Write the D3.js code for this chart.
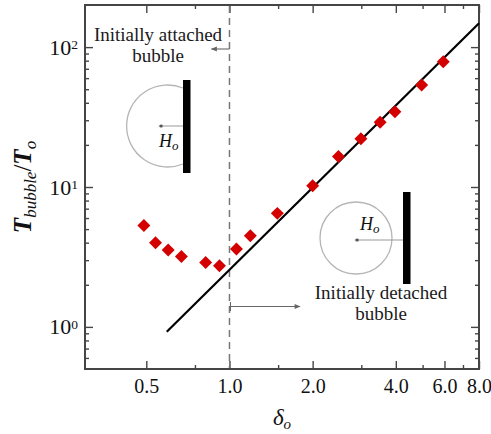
<!DOCTYPE html>
<html>
<head>
<meta charset="utf-8">
<script src="https://cdn.jsdelivr.net/npm/d3@7"></script>
<style>
  html, body { margin: 0; padding: 0; background: #fff; }
  svg text { font-family: "Liberation Serif", "DejaVu Serif", serif !important; }
</style>
</head>
<body>
<svg id="chart" width="491" height="434"></svg>
<script>
// Bubble lifetime ratio against initial stand-off distance
const delta  = [0.49, 0.54, 0.60, 0.67, 0.82, 0.92, 1.06, 1.19, 1.49, 2.0, 2.48, 2.99, 3.51, 3.97, 4.96, 5.94];
const tRatio = [5.3, 4.0, 3.55, 3.18, 2.89, 2.74, 3.6, 4.49, 6.48, 10.2, 16.5, 22.1, 29.0, 34.5, 53.6, 78.6];

// power-law fit (straight line on log-log axes)
const fitDelta = [0.593, 8.0];
const fitT     = [0.924, 148];

const threshold = 1.0;

const xMajorTicks = [0.5, 1, 2, 4, 6, 8];
const xMinorTicks = [0.75, 1.5, 3, 5, 7];
const yMajorTicks = [1, 10, 100];
const yMinorTicks = [0.6, 0.7, 0.8, 0.9, 2, 3, 4, 5, 6, 7, 8, 9, 20, 30, 40, 50, 60, 70, 80, 90];

const W = 491, H = 434;
const margin = { left: 85, right: 12, top: 5, bottom: 65 };

const svg = d3.select("#chart");

const x = d3.scaleLog().base(2).domain([0.3, 8]).range([margin.left, W - margin.right]);
const y = d3.scaleLog().domain([0.5, 200]).range([H - margin.bottom, margin.top]);
const [x0, x1] = x.range();
const [y0, y1] = y.range();

const axisColor = "#454545";
function styleAxis(g) {
  g.select(".domain").remove();
  g.selectAll(".tick line").attr("stroke", axisColor).attr("stroke-width", 1.4);
}

// bottom axis with labels
svg.append("g")
  .attr("transform", `translate(0,${y0})`)
  .call(d3.axisBottom(x).tickValues(xMajorTicks).tickSize(-8).tickPadding(10).tickFormat(d3.format(".1f")))
  .call(styleAxis)
  .call(g => g.attr("font-size", 20).selectAll("text").attr("fill", "#111"));
svg.append("g")
  .attr("transform", `translate(0,${y0})`)
  .call(d3.axisBottom(x).tickValues(xMinorTicks).tickSize(-4).tickFormat(""))
  .call(styleAxis);

// top axis (ticks only)
svg.append("g")
  .attr("transform", `translate(0,${y1})`)
  .call(d3.axisTop(x).tickValues(xMajorTicks).tickSize(-8).tickFormat(""))
  .call(styleAxis);
svg.append("g")
  .attr("transform", `translate(0,${y1})`)
  .call(d3.axisTop(x).tickValues(xMinorTicks).tickSize(-4).tickFormat(""))
  .call(styleAxis);

// left axis
svg.append("g")
  .attr("transform", `translate(${x0},0)`)
  .call(d3.axisLeft(y).tickValues(yMajorTicks).tickSize(-8).tickFormat(""))
  .call(styleAxis);
svg.append("g")
  .attr("transform", `translate(${x0},0)`)
  .call(d3.axisLeft(y).tickValues(yMinorTicks).tickSize(-4).tickFormat(""))
  .call(styleAxis);

// right axis
svg.append("g")
  .attr("transform", `translate(${x1},0)`)
  .call(d3.axisRight(y).tickValues(yMajorTicks).tickSize(-8).tickFormat(""))
  .call(styleAxis);
svg.append("g")
  .attr("transform", `translate(${x1},0)`)
  .call(d3.axisRight(y).tickValues(yMinorTicks).tickSize(-4).tickFormat(""))
  .call(styleAxis);

// power-of-ten labels
const yLab = svg.append("g").attr("fill", "#111");
yMajorTicks.forEach(v => {
  const t = yLab.append("text")
    .attr("x", x0 - 7)
    .attr("y", y(v) + 7.5)
    .attr("text-anchor", "end")
    .attr("font-size", 22);
  t.append("tspan").text("10");
  t.append("tspan").attr("font-size", 13.5).attr("dy", -5.5).text(String(Math.round(Math.log10(v))));
});

// frame
svg.append("rect")
  .attr("x", x0).attr("y", y1)
  .attr("width", x1 - x0).attr("height", y0 - y1)
  .attr("fill", "none").attr("stroke", axisColor).attr("stroke-width", 2);

// axis titles
const xt = svg.append("text")
  .attr("x", (x0 + x1) / 2).attr("y", 425)
  .attr("text-anchor", "middle").attr("fill", "#111")
  .attr("font-style", "italic");
xt.append("tspan").attr("font-size", 23).text("δ");
xt.append("tspan").attr("font-size", 15).attr("dy", 4).text("o");

const yt = svg.append("text")
  .attr("transform", `translate(31,${(y0 + y1) / 2}) rotate(-90)`)
  .attr("text-anchor", "middle").attr("fill", "#111")
  .attr("font-style", "italic");
yt.append("tspan").attr("font-size", 25).attr("font-weight", 600).text("T");
yt.append("tspan").attr("font-size", 17).attr("dy", 5).text("bubble");
yt.append("tspan").attr("font-size", 25).attr("dy", -5).attr("font-style", "normal").text("/");
yt.append("tspan").attr("font-size", 25).attr("font-weight", 600).text("T");
yt.append("tspan").attr("font-size", 17).attr("dy", 5).text("o");

// arrow markers
const defs = svg.append("defs");
defs.append("marker")
  .attr("id", "arr").attr("viewBox", "0 0 10 10")
  .attr("refX", 9).attr("refY", 5)
  .attr("markerWidth", 7).attr("markerHeight", 6)
  .attr("markerUnits", "userSpaceOnUse")
  .attr("orient", "auto")
  .append("path").attr("d", "M0,1 L10,5 L0,9 Z").attr("fill", "#666");
defs.append("marker")
  .attr("id", "arrSmall").attr("viewBox", "0 0 10 10")
  .attr("refX", 1).attr("refY", 5)
  .attr("markerWidth", 5).attr("markerHeight", 4)
  .attr("markerUnits", "userSpaceOnUse")
  .attr("orient", "auto-start-reverse")
  .append("path").attr("d", "M0,1 L10,5 L0,9 Z").attr("fill", "#888");

// regime boundary
const xb = x(threshold);
svg.append("line")
  .attr("x1", xb).attr("x2", xb).attr("y1", y1 + 1).attr("y2", y0 - 1)
  .attr("stroke", "#777").attr("stroke-width", 1.5).attr("stroke-dasharray", "7,5");

// regime arrows
svg.append("line")
  .attr("x1", xb).attr("x2", xb - 18).attr("y1", 49).attr("y2", 49)
  .attr("stroke", "#666").attr("stroke-width", 1.1).attr("marker-end", "url(#arr)");
svg.append("line")
  .attr("x1", xb + 1).attr("x2", 300).attr("y1", 306.5).attr("y2", 306.5)
  .attr("stroke", "#666").attr("stroke-width", 1.1).attr("marker-end", "url(#arr)");
svg.append("line")
  .attr("x1", xb + 1).attr("x2", xb + 1).attr("y1", 302).attr("y2", 311)
  .attr("stroke", "#666").attr("stroke-width", 1.1);

// regime captions
function caption(cx, lines, baseline) {
  const g = svg.append("g").attr("font-size", 19)
    .attr("fill", "#1a1a1a").attr("text-anchor", "middle");
  lines.forEach((s, i) => g.append("text").attr("x", cx).attr("y", baseline + i * 21).text(s));
}
caption(158, ["Initially attached", "bubble"], 41);
caption(381, ["Initially detached", "bubble"], 299);

// H_o distance label
function subH(gx, gy) {
  const t = svg.append("text").attr("x", gx).attr("y", gy)
    .attr("font-style", "italic").attr("fill", "#111");
  t.append("tspan").attr("font-size", 18).text("H");
  t.append("tspan").attr("font-size", 13).attr("dy", 3).text("o");
}

// sketch: attached bubble against the wall
const s1 = svg.append("g");
s1.append("path")
  .attr("d", "M183,88 A41,41 0 1 0 183,164")
  .attr("fill", "none").attr("stroke", "#b5b5b5").attr("stroke-width", 1.3);
s1.append("line").attr("x1", 162).attr("x2", 183).attr("y1", 126).attr("y2", 126)
  .attr("stroke", "#999").attr("stroke-width", 1).attr("marker-start", "url(#arrSmall)");
s1.append("circle").attr("cx", 161).attr("cy", 126).attr("r", 1.6).attr("fill", "#555");
s1.append("rect").attr("x", 183).attr("y", 80).attr("width", 7.5).attr("height", 93).attr("fill", "#000");
subH(159, 147);

// sketch: detached bubble near the wall
const s2 = svg.append("g");
s2.append("circle").attr("cx", 356).attr("cy", 238).attr("r", 36)
  .attr("fill", "none").attr("stroke", "#b5b5b5").attr("stroke-width", 1.3);
s2.append("line").attr("x1", 358).attr("x2", 403).attr("y1", 240).attr("y2", 240)
  .attr("stroke", "#999").attr("stroke-width", 1).attr("marker-start", "url(#arrSmall)");
s2.append("circle").attr("cx", 357).attr("cy", 240).attr("r", 1.6).attr("fill", "#555");
s2.append("rect").attr("x", 403).attr("y", 192).attr("width", 7.5).attr("height", 92).attr("fill", "#000");
subH(360, 230);

// fit line
svg.append("path")
  .datum(d3.zip(fitDelta, fitT))
  .attr("d", d3.line().x(d => x(d[0])).y(d => y(d[1])))
  .attr("fill", "none").attr("stroke", "#000").attr("stroke-width", 2.2);

// measured points
svg.append("g").selectAll("path")
  .data(d3.zip(delta, tRatio))
  .join("path")
  .attr("transform", d => `translate(${x(d[0])},${y(d[1])}) rotate(45)`)
  .attr("d", d3.symbol(d3.symbolSquare, 84))
  .attr("fill", "#d40000");
</script>
</body>
</html>
